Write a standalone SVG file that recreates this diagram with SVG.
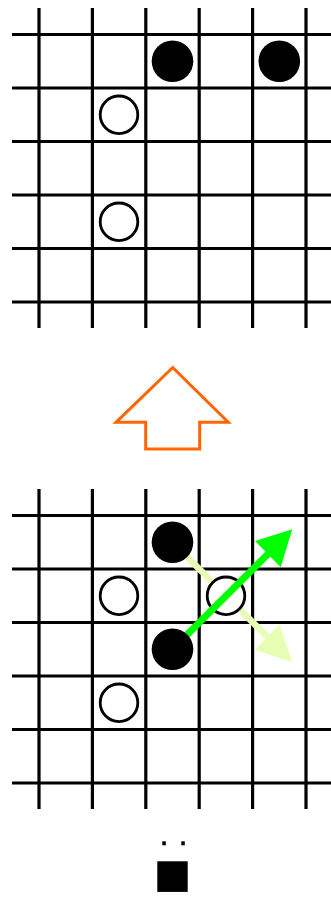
<svg xmlns="http://www.w3.org/2000/svg" width="331" height="899" viewBox="0 0 331 899">
<defs>
<style>
.grid line{stroke:#000;stroke-width:3.2}
.b{fill:#000}
.w{fill:#fff;stroke:#000;stroke-width:2.8}
</style>
</defs>
<rect width="331" height="899" fill="#fff"/>
<g id="board-top" class="grid">
<line x1="39" y1="8" x2="39" y2="328"/>
<line x1="92.4" y1="8" x2="92.4" y2="328"/>
<line x1="145.8" y1="8" x2="145.8" y2="328"/>
<line x1="199.2" y1="8" x2="199.2" y2="328"/>
<line x1="252.6" y1="8" x2="252.6" y2="328"/>
<line x1="306" y1="8" x2="306" y2="328"/>
<line x1="12" y1="34.5" x2="331" y2="34.5"/>
<line x1="12" y1="88" x2="331" y2="88"/>
<line x1="12" y1="141.5" x2="331" y2="141.5"/>
<line x1="12" y1="195" x2="331" y2="195"/>
<line x1="12" y1="248.5" x2="331" y2="248.5"/>
<line x1="12" y1="302" x2="331" y2="302"/>
</g>
<g id="stones-top">
<circle id="tb1" class="b" cx="172.5" cy="61.3" r="20.8"/>
<circle id="tb2" class="b" cx="279.3" cy="61.3" r="20.8"/>
<circle id="tw1" class="w" cx="119" cy="114.8" r="18.8"/>
<circle id="tw2" class="w" cx="119" cy="221.8" r="18.8"/>
</g>
<g id="up-arrow">
<polygon points="172.7,367.5 228.3,422.3 199.7,422.3 199.7,449 145.7,449 145.7,422.3 116,422.3" fill="#fff" stroke="#ff6600" stroke-width="3"/>
</g>
<g id="board-bottom" class="grid">
<line x1="39" y1="489" x2="39" y2="809"/>
<line x1="92.4" y1="489" x2="92.4" y2="809"/>
<line x1="145.8" y1="489" x2="145.8" y2="809"/>
<line x1="199.2" y1="489" x2="199.2" y2="809"/>
<line x1="252.6" y1="489" x2="252.6" y2="809"/>
<line x1="306" y1="489" x2="306" y2="809"/>
<line x1="12" y1="515.5" x2="331" y2="515.5"/>
<line x1="12" y1="569" x2="331" y2="569"/>
<line x1="12" y1="622.5" x2="331" y2="622.5"/>
<line x1="12" y1="676" x2="331" y2="676"/>
<line x1="12" y1="729.5" x2="331" y2="729.5"/>
<line x1="12" y1="783" x2="331" y2="783"/>
</g>
<g id="connectors">
<g id="arrow-light">
<line x1="172.5" y1="542.3" x2="268" y2="637.5" stroke="#e6ffb5" stroke-width="6.5"/>
<polygon points="292.3,662.3 255,650 279.3,624.3" fill="#e6ffb5"/>
</g>
</g>
<g id="stones-bottom-white">
<circle id="bw1" class="w" cx="119" cy="595.8" r="18.8"/>
<circle id="bw2" class="w" cx="226" cy="595.8" r="18.8"/>
<circle id="bw3" class="w" cx="119" cy="702.8" r="18.8"/>
</g>
<g id="connectors-top">
<g id="arrow-green">
<line x1="172.5" y1="649.3" x2="268.5" y2="553.5" stroke="#00ff00" stroke-width="7"/>
<polygon points="292.3,529.3 255,541 280.7,567.3" fill="#00ff00"/>
</g>
</g>
<g id="stones-bottom-black">
<circle id="bb1" class="b" cx="172.5" cy="542.3" r="20.8"/>
<circle id="bb2" class="b" cx="172.5" cy="649.3" r="20.8"/>
</g>
<g id="mark">
<rect x="162.3" y="841.3" width="3.5" height="4" fill="#000"/>
<rect x="181.3" y="841.3" width="3.5" height="4" fill="#000"/>
<rect x="157.3" y="861.3" width="30.4" height="30.6" fill="#000"/>
</g>
</svg>
